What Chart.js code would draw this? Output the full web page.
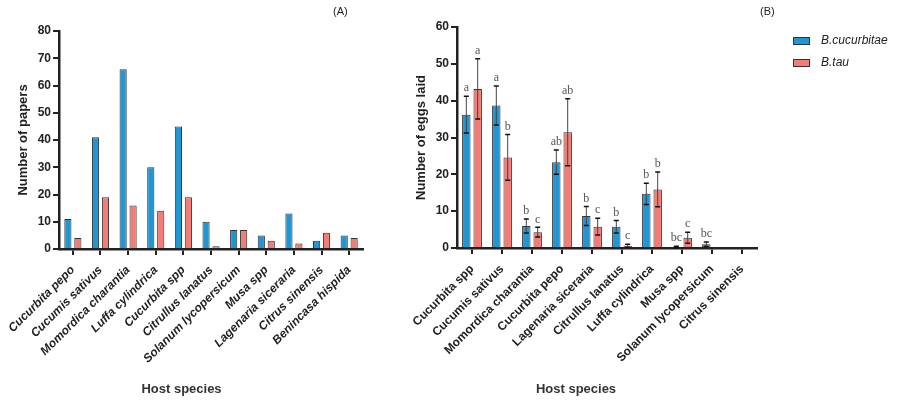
<!DOCTYPE html>
<html lang="en">
<head>
<meta charset="UTF-8"/>
<title>Host species</title>
<script src="https://cdn.jsdelivr.net/npm/chart.js@4.4.0/dist/chart.umd.min.js"></script>
<style>
  body{margin:0;background:#fff;font-family:"Liberation Sans",Arial,sans-serif;}
  #wrap{position:relative;width:902px;height:402px;overflow:hidden;}
  canvas{position:absolute;top:0;}
  .tag{position:absolute;top:5px;font-size:11px;color:#222;}
  #legend{position:absolute;left:793px;top:31px;font-size:12px;font-style:italic;color:#222;}
  #legend div{height:22px;line-height:18px;white-space:nowrap;}
  #legend span.sw{display:inline-block;width:15px;height:6px;border:1px solid #333;margin-right:11px;vertical-align:middle;}
</style>
</head>
<body>
<div id="wrap">
  <canvas id="papers" width="380" height="402" style="left:0"></canvas>
  <canvas id="eggs" width="507" height="402" style="left:395px"></canvas>
  <div class="tag" style="left:333px">(A)</div>
  <div class="tag" style="left:760px">(B)</div>
  <div id="legend"></div>
</div>
<script>
// (A) number of papers per host
var papersHosts = ['Cucurbita pepo','Cucumis sativus','Momordica charantia','Luffa cylindrica','Cucurbita spp','Citrullus lanatus','Solanum lycopersicum','Musa spp','Lagenaria siceraria','Citrus sinensis','Benincasa hispida'];
var papersCucurbitae = [11,41,66,30,45,10,7,5,13,3,5];
var papersTau = [4,19,16,14,19,1,7,3,2,6,4];
var papersMax = 80;

// (B) number of eggs laid (mean, error, letters)
var eggHosts = ['Cucurbita spp','Cucumis sativus','Momordica charantia','Cucurbita pepo','Lagenaria siceraria','Citrullus lanatus','Luffa cylindrica','Musa spp','Solanum lycopersicum','Citrus sinensis'];
var eggsCucurbitae = [36.2,38.7,6,23.3,8.7,5.8,14.7,0.3,1.0,0];
var errCucurbitae = [5,5.3,1.9,3.3,2.6,1.7,2.9,0.2,0.6,0];
var lettersCucurbitae = ['a','a','b','ab','b','b','b','bc','bc',''];
var eggsTau = [43.2,24.6,4.3,31.4,5.8,0.6,15.9,2.8,0,0];
var errTau = [8.2,6.2,1.3,9.1,2.3,0.4,4.7,1.5,0,0];
var lettersTau = ['a','b','c','ab','c','c','b','c','',''];
var eggsMax = 60;

var seriesNames = ['B.cucurbitae','B.tau'];
var seriesColors = ['#2196d3','#f27c76'];

var FONT = '"Liberation Sans", Arial, sans-serif';
var INK = '#222';

function axes(max, yWidth, xHeight, italic){
  return {
    x: {
      afterFit: function(s){ s.height = xHeight; },
      grid: {display:true, offset:false, drawOnChartArea:false, drawTicks:true, tickLength:6, color:INK, lineWidth:2},
      border: {display:true, color:INK, width:2.5},
      ticks: {autoSkip:false, minRotation:45, maxRotation:45, padding:8, color:INK,
               font:{family:FONT, size:12, weight:'bold', style: italic ? 'italic' : 'normal'}}
    },
    y: {
      min:0, max:max,
      afterFit: function(s){ s.width = yWidth; },
      grid: {display:true, drawOnChartArea:false, drawTicks:true, tickLength:6, color:INK, lineWidth:2},
      border: {display:true, color:INK, width:2.5},
      ticks: {stepSize:10, padding:2, color:INK, font:{family:FONT, size:12, weight:'bold'}},
      title: {display:true, color:INK, font:{family:FONT, size:13, weight:'bold'}, padding:{top:15, bottom:0}}
    }
  };
}

function bottomTitle(){
  return {display:true, position:'bottom', text:'Host species', color:'#333',
          font:{family:FONT, size:13, weight:'bold'}, padding:{top:0, bottom:0}};
}

// chart A
var optA = {
  responsive:false, animation:false,
  layout:{padding:{top:31, right:17, bottom:5, left:0}},
  scales: axes(papersMax, 58, 132.4, true),
  plugins:{legend:{display:false}, tooltip:{enabled:false}, title:bottomTitle()}
};
optA.scales.y.title.text = 'Number of papers';
new Chart(document.getElementById('papers'), {
  type:'bar',
  data:{
    labels: papersHosts,
    datasets:[
      {label:seriesNames[0], data:papersCucurbitae, backgroundColor:seriesColors[0], borderColor:'#333', borderWidth:1, categoryPercentage:0.72, barPercentage:0.72},
      {label:seriesNames[1], data:papersTau, backgroundColor:seriesColors[1], borderColor:'#333', borderWidth:1, categoryPercentage:0.72, barPercentage:0.72}
    ]
  },
  options: optA
});

// error bars + significance letters for chart B
var errorBars = {
  id:'errorBars',
  afterDatasetsDraw: function(chart){
    var ctx = chart.ctx, ys = chart.scales.y;
    var errs = [errCucurbitae, errTau];
    var lets = [lettersCucurbitae, lettersTau];
    chart.data.datasets.forEach(function(ds, di){
      var meta = chart.getDatasetMeta(di);
      meta.data.forEach(function(bar, i){
        var v = ds.data[i], e = errs[di][i];
        var x = bar.x;
        var yTop = ys.getPixelForValue(v + e);
        var yBot = ys.getPixelForValue(Math.max(v - e, 0));
        ctx.save();
        if (e > 0) {
          ctx.strokeStyle = '#444'; ctx.lineWidth = 1;
          ctx.beginPath(); ctx.moveTo(x, yTop); ctx.lineTo(x, yBot); ctx.stroke();
          ctx.strokeStyle = '#111'; ctx.lineWidth = 1.5;
          ctx.beginPath();
          ctx.moveTo(x - 2.5, yTop); ctx.lineTo(x + 2.5, yTop);
          ctx.moveTo(x - 2.5, yBot); ctx.lineTo(x + 2.5, yBot);
          ctx.stroke();
        }
        if (lets[di][i]) {
          ctx.fillStyle = '#555';
          ctx.font = '12px "Liberation Serif", "Times New Roman", serif';
          ctx.textAlign = 'center';
          ctx.textBaseline = 'bottom';
          ctx.fillText(lets[di][i], x, yTop - 2);
        }
        ctx.restore();
      });
    });
  }
};

// chart B
var optB = {
  responsive:false, animation:false,
  layout:{padding:{top:27, right:145, bottom:5, left:0}},
  scales: axes(eggsMax, 62, 133.4, false),
  plugins:{legend:{display:false}, tooltip:{enabled:false}, title:bottomTitle()}
};
optB.scales.y.title.text = 'Number of eggs laid';
optB.scales.y.title.padding = {top:19, bottom:0};
new Chart(document.getElementById('eggs'), {
  type:'bar',
  data:{
    labels: eggHosts,
    datasets:[
      {label:seriesNames[0], data:eggsCucurbitae, backgroundColor:seriesColors[0], borderColor:'#333', borderWidth:1, categoryPercentage:0.76, barPercentage:0.74},
      {label:seriesNames[1], data:eggsTau, backgroundColor:seriesColors[1], borderColor:'#333', borderWidth:1, categoryPercentage:0.76, barPercentage:0.74}
    ]
  },
  options: optB,
  plugins:[errorBars]
});

// legend
var lg = document.getElementById('legend');
for (var i = 0; i < seriesNames.length; i++) {
  lg.innerHTML += "<div><span class='sw' style='background:" + seriesColors[i] + "'></span>" + seriesNames[i] + "</div>";
}
</script>
</body>
</html>
